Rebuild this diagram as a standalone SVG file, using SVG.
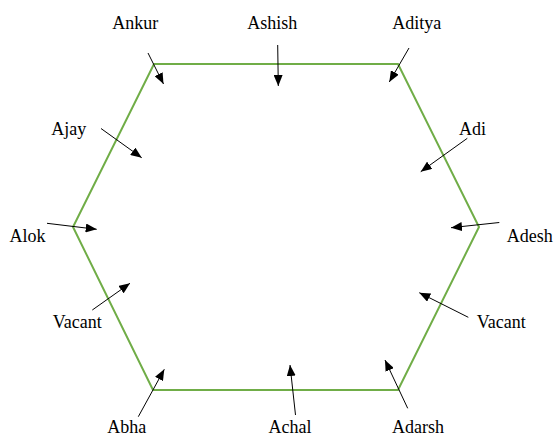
<svg xmlns="http://www.w3.org/2000/svg" width="556" height="438" viewBox="0 0 556 438">
<style>
.hex{fill:none;stroke:#70AD47;stroke-width:2}
.arr{stroke:#000;stroke-width:1;fill:none;marker-end:url(#ah)}
text{font-family:"Liberation Serif","Times New Roman",serif;font-size:18px;fill:#000;text-anchor:middle}
</style>
<defs>
<marker id="ah" markerUnits="userSpaceOnUse" markerWidth="11" markerHeight="9" refX="11" refY="4.5" orient="auto">
<path d="M0,0 L11,4.5 L0,9 z" fill="#000"/>
</marker>
</defs>
<rect width="556" height="438" fill="#fff"/>
<g id="hexagon">
<polygon class="hex" points="154,64 398,64 479,227 398,390 153,390 73,227"/>
</g>
<g id="connectors">
<line class="arr" x1="148" y1="53" x2="163.5" y2="84"/>
<line class="arr" x1="277.7" y1="45" x2="278.3" y2="86"/>
<line class="arr" x1="409" y1="48" x2="389.3" y2="82"/>
<line class="arr" x1="101" y1="128.5" x2="141.7" y2="157.7"/>
<line class="arr" x1="47" y1="223.3" x2="96.7" y2="229.3"/>
<line class="arr" x1="92.3" y1="310" x2="130" y2="283.3"/>
<line class="arr" x1="467.3" y1="138.3" x2="420.7" y2="171.7"/>
<line class="arr" x1="499.3" y1="222.5" x2="451" y2="227.7"/>
<line class="arr" x1="468.3" y1="317.3" x2="419.3" y2="292.7"/>
<line class="arr" x1="138.3" y1="416.7" x2="164.3" y2="369.3"/>
<line class="arr" x1="295.5" y1="415" x2="290" y2="365"/>
<line class="arr" x1="407.7" y1="408.3" x2="385" y2="360"/>
</g>
<g id="n-ankur"><text x="135.3" y="29">Ankur</text></g>
<g id="n-ashish"><text x="272.2" y="29">Ashish</text></g>
<g id="n-aditya"><text x="416.7" y="29">Aditya</text></g>
<g id="n-ajay"><text x="68.7" y="135">Ajay</text></g>
<g id="n-alok"><text x="27.5" y="241.5">Alok</text></g>
<g id="n-vacant-left"><text x="77.2" y="328">Vacant</text></g>
<g id="n-adi"><text x="472.5" y="135">Adi</text></g>
<g id="n-adesh"><text x="529.7" y="241.5">Adesh</text></g>
<g id="n-vacant-right"><text x="501.2" y="328">Vacant</text></g>
<g id="n-abha"><text x="126.7" y="433">Abha</text></g>
<g id="n-achal"><text x="290" y="433">Achal</text></g>
<g id="n-adarsh"><text x="418" y="433">Adarsh</text></g>
</svg>
